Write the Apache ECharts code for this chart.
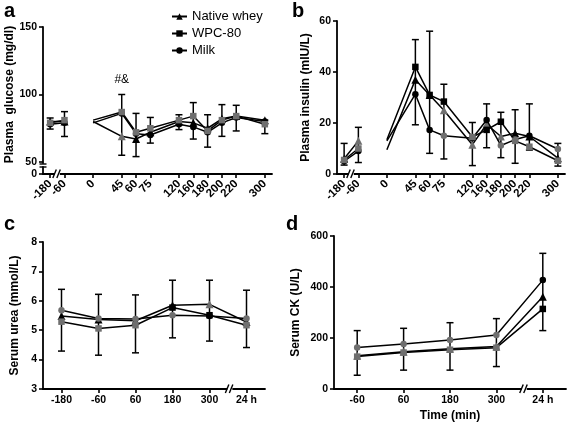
<!DOCTYPE html>
<html><head><meta charset="utf-8">
<script src="https://cdn.jsdelivr.net/npm/echarts@6/dist/echarts.min.js"></script>
<style>html,body{margin:0;padding:0;background:#fff}#c{width:567px;height:429px}</style>
</head><body><div id="c"></div>
<script>
// ---------------- data ----------------
const seriesNames = ['Native whey', 'WPC-80', 'Milk'];
// panels a & b: sampling times (min)
const timesAB = ['-180', '-60', '0', '45', '60', '75', '120', '160', '180', '200', '220', '300'];
// axis slots (blank slots keep the original uneven spacing)
const axisCatsAB = ['-180', '-60', ' ', '0', '  ', '45', '60', '75', '   ', '120', '160', '180', '200', '220', '    ', '300'];
// a: plasma glucose (mg/dl)
const glucoseNative = [80, 80, 80, 69, 67, 72, 80, 79, 75, 82, 84, 81];
const glucoseWPC    = [79, 81, 81, 87, 72, 75, 81, 84, 73, 81, 84, 78];
const glucoseMilk   = [78, 79, 79, 86, 71, 70, 78, 76, 72, 79, 83, 80];
const glucoseErrLow  = [74.4, 68.9, null, 55, 54, 64, 74, 67, 61, 69, 73, 71];
const glucoseErrHigh = [82.6, 87.3, null, 100, 86, 83, 85, 94, 85, 92.5, 92, 81];
// b: plasma insulin (mIU/L)
const insulinNative = [6, 13, 9.5, 37, 31, 25, 11.5, 19.5, 14.7, 16, 14.7, 6.2];
const insulinWPC    = [5.5, 10, 13.4, 42, 31, 28.4, 14.5, 17.3, 20.5, 13, 10.7, 5.2];
const insulinMilk   = [5, 9, 13, 31.3, 17.3, 15, 14, 21.2, 11.2, 13.5, 15, 9.8];
const insulinErrLow  = [3.5, 4.5, null, 19.3, 8.1, 5.9, 3.3, 10.3, 6.4, 4.2, 9.4, 3.1];
const insulinErrHigh = [12, 18.3, null, 52.7, 56, 35.2, 20.2, 27.5, 24.2, 25.2, 27.5, 12];
// c: serum urea (mmol/L)
const timesC = ['-180', '-60', '60', '180', '300', '24 h'];
const ureaNative = [5.48, 5.36, 5.32, 5.85, 5.88, 5.28];
const ureaWPC    = [5.29, 5.06, 5.17, 5.77, 5.51, 5.17];
const ureaMilk   = [5.68, 5.40, 5.38, 5.51, 5.48, 5.40];
const ureaErrLow  = [4.29, 4.15, 4.23, 4.74, 4.63, 4.41];
const ureaErrHigh = [6.39, 6.22, 6.20, 6.70, 6.70, 6.36];
// d: serum CK (U/L)
const timesD = ['-60', '60', '180', '300', '24 h'];
const ckNative = [130, 146, 158, 167, 362];
const ckWPC    = [127, 143, 154, 162, 314];
const ckMilk   = [163, 176, 192, 212, 427];
const ckErrLow  = [54, 74, 74, 88, 229];
const ckErrHigh = [229, 238, 260, 276, 532];

// ---------------- styling / layout ----------------
const FONT = '"Liberation Sans", Arial, sans-serif';
const BLACK = '#000';
const GREY = '#6f6f6f';
const symbols = ['triangle', 'rect', 'circle'];
const symbolSizes = [8, 6.5, 6.5];
const seriesZ = [3, 5, 4];
// indices of markers drawn grey in the original (per series)
const greyMarks = {
  a: [[3], [0, 1, 3, 4, 5, 6, 7, 8, 9, 10, 11], []],
  b: [[1, 5, 6, 7, 8], [0, 1, 6, 9, 10, 11], [5, 8, 9, 11]],
  c: [[4], [0, 1, 2, 5], [0, 1, 2, 3, 5]],
  d: [[0, 1, 2, 3], [0, 1, 2, 3], [0, 1, 2, 3]]
};
const GRIDS = [
  {left: 43, top: 27, width: 229, height: 135},   // a (50-150)
  {left: 43, top: 167, width: 229, height: 7},    // a (0 stub)
  {left: 337, top: 21, width: 228, height: 153},  // b
  {left: 43, top: 242, width: 222, height: 147},  // c
  {left: 334, top: 236, width: 232, height: 153}  // d
];

function merge(a, b) {
  const out = Object.assign({}, a);
  for (const k in b) {
    if (b[k] && typeof b[k] === 'object' && !Array.isArray(b[k]) && typeof b[k] !== 'function' && a[k] && typeof a[k] === 'object') out[k] = merge(a[k], b[k]);
    else out[k] = b[k];
  }
  return out;
}
const baseAxis = {
  axisLine: {show: true, onZero: false, lineStyle: {color: BLACK, width: 1.8}},
  axisTick: {show: true, length: 4, lineStyle: {color: BLACK, width: 1.6}},
  axisLabel: {color: BLACK, fontWeight: 'bold', fontSize: 10.5, fontFamily: FONT, margin: 6},
  splitLine: {show: false},
  nameTextStyle: {color: BLACK, fontWeight: 'bold', fontSize: 12, fontFamily: FONT}
};
const tickFilter = (i, v) => String(v).trim() !== '';

const xAxes = [
  merge(baseAxis, {gridIndex: 0, type: 'category', data: axisCatsAB, offset: 12,
    axisTick: {alignWithLabel: true, interval: tickFilter},
    axisLabel: {rotate: 45, interval: 0, margin: 8, fontSize: 11.5}}),
  {gridIndex: 1, type: 'category', data: axisCatsAB, show: false},
  merge(baseAxis, {gridIndex: 2, type: 'category', data: axisCatsAB,
    axisTick: {alignWithLabel: true, interval: tickFilter},
    axisLabel: {rotate: 45, interval: 0, margin: 8, fontSize: 11.5}}),
  merge(baseAxis, {gridIndex: 3, type: 'category', data: timesC,
    axisTick: {alignWithLabel: true}, axisLabel: {interval: 0}}),
  merge(baseAxis, {gridIndex: 4, type: 'category', data: timesD,
    axisTick: {alignWithLabel: true}, axisLabel: {interval: 0},
    name: 'Time (min)', nameLocation: 'middle', nameGap: 21})
];
const yAxes = [
  merge(baseAxis, {gridIndex: 0, type: 'value', min: 50, max: 150, interval: 50,
    name: 'Plasma  glucose (mg/dl)', nameLocation: 'middle', nameGap: 27}),
  merge(baseAxis, {gridIndex: 1, type: 'value', min: 0, max: 1,
    axisLabel: {customValues: [0]}, axisTick: {customValues: [0]}}),
  merge(baseAxis, {gridIndex: 2, type: 'value', min: 0, max: 60, interval: 20,
    name: 'Plasma insulin (mIU/L)', nameLocation: 'middle', nameGap: 25}),
  merge(baseAxis, {gridIndex: 3, type: 'value', min: 3, max: 8, interval: 1,
    name: 'Serum urea (mmol/L)', nameLocation: 'middle', nameGap: 22}),
  merge(baseAxis, {gridIndex: 4, type: 'value', min: 0, max: 600, interval: 200,
    name: 'Serum CK (U/L)', nameLocation: 'middle', nameGap: 32})
];

const panels = [
  {key: 'a', axis: 0, times: timesAB, vals: [glucoseNative, glucoseWPC, glucoseMilk], lo: glucoseErrLow, hi: glucoseErrHigh, gapAfter: '-60', noSymbol: '0'},
  {key: 'b', axis: 2, times: timesAB, vals: [insulinNative, insulinWPC, insulinMilk], lo: insulinErrLow, hi: insulinErrHigh, gapAfter: '-60', noSymbol: '0'},
  {key: 'c', axis: 3, times: timesC, vals: [ureaNative, ureaWPC, ureaMilk], lo: ureaErrLow, hi: ureaErrHigh},
  {key: 'd', axis: 4, times: timesD, vals: [ckNative, ckWPC, ckMilk], lo: ckErrLow, hi: ckErrHigh}
];

const series = [];
panels.forEach(p => {
  series.push({
    type: 'custom', xAxisIndex: p.axis, yAxisIndex: p.axis, z: 2, silent: true,
    data: p.times.map((t, i) => [t, p.lo[i], p.hi[i]]).filter(d => d[1] != null),
    encode: {x: 0, y: [1, 2]},
    renderItem: (params, api) => {
      const x = api.value(0);
      const a = api.coord([x, api.value(1)]);
      const b = api.coord([x, api.value(2)]);
      const w = 3.5;
      const st = {stroke: BLACK, lineWidth: 1.5};
      return {type: 'group', children: [
        {type: 'line', shape: {x1: a[0], y1: a[1], x2: b[0], y2: b[1]}, style: st},
        {type: 'line', shape: {x1: a[0] - w, y1: a[1], x2: a[0] + w, y2: a[1]}, style: st},
        {type: 'line', shape: {x1: b[0] - w, y1: b[1], x2: b[0] + w, y2: b[1]}, style: st}
      ]};
    }
  });
  seriesNames.forEach((name, s) => {
    const data = [];
    p.times.forEach((t, i) => {
      const item = {value: [t, p.vals[s][i]]};
      if (greyMarks[p.key][s].includes(i)) item.itemStyle = {color: GREY};
      if (t === p.noSymbol) item.symbol = 'none';
      data.push(item);
      if (t === p.gapAfter) data.push({value: [' ', '-']});
    });
    series.push({
      name, type: 'line', xAxisIndex: p.axis, yAxisIndex: p.axis, z: seriesZ[s],
      symbol: symbols[s], symbolSize: symbolSizes[s], connectNulls: false,
      lineStyle: {color: BLACK, width: 1.5}, itemStyle: {color: BLACK},
      emphasis: {disabled: true}, data
    });
  });
});

const chart = echarts.init(document.getElementById('c'));
chart.setOption({
  animation: false,
  backgroundColor: '#fff',
  grid: GRIDS,
  xAxis: xAxes,
  yAxis: yAxes,
  legend: {
    data: seriesNames, orient: 'vertical', left: 166, top: 5,
    itemWidth: 15, itemHeight: 8, itemGap: 4,
    textStyle: {fontSize: 13, fontFamily: FONT, color: BLACK}
  },
  series
});

// ---------------- decorations: panel letters, annotation, axis breaks ----------------
const g = [];
[['a', 4, 21], ['b', 292, 21], ['c', 4, 234], ['d', 286, 234]].forEach(([t, x, y]) => {
  g.push({type: 'text', x, y, style: {text: t, font: 'bold 20px ' + FONT, fill: BLACK, verticalAlign: 'bottom'}});
});
const ann = chart.convertToPixel({xAxisIndex: 0, yAxisIndex: 0}, ['45', 111]);
g.push({type: 'text', x: ann[0], y: ann[1], style: {text: '#&', font: '12px ' + FONT, fill: BLACK, align: 'center', verticalAlign: 'middle'}});

function xBreak(axisIdx, yIdx, yVal, c1, c2, frac) {
  const x1 = chart.convertToPixel({xAxisIndex: axisIdx}, c1);
  const x2 = chart.convertToPixel({xAxisIndex: axisIdx}, c2);
  const x = x1 + (x2 - x1) * frac;
  const y = chart.convertToPixel({yAxisIndex: yIdx}, yVal);
  const st = {stroke: BLACK, lineWidth: 1.4};
  g.push({type: 'rect', shape: {x: x - 2.5, y: y - 2, width: 5, height: 4}, style: {fill: '#fff'}, z: 100});
  g.push({type: 'line', shape: {x1: x - 4.5, y1: y + 4, x2: x - 1, y2: y - 4.5}, style: st, z: 101});
  g.push({type: 'line', shape: {x1: x - 0.5, y1: y + 4, x2: x + 3, y2: y - 4.5}, style: st, z: 101});
}
xBreak(0, 1, 0, '-180', '-60', 0.5);
xBreak(2, 2, 0, '-180', '-60', 0.5);
xBreak(3, 3, 3, '300', '24 h', 0.55);
xBreak(4, 4, 0, '300', '24 h', 0.6);
// y-axis break of panel a (between 0 and 50)
(function () {
  const yTop = chart.convertToPixel({yAxisIndex: 0}, 50);
  const yBot = GRIDS[1].top;
  const x = GRIDS[0].left;
  const st = {stroke: BLACK, lineWidth: 1.4};
  g.push({type: 'line', shape: {x1: x, y1: yTop, x2: x, y2: yTop + 2}, style: st});
  g.push({type: 'line', shape: {x1: x - 3.5, y1: yTop + 2, x2: x + 3.5, y2: yTop + 2}, style: st});
  g.push({type: 'line', shape: {x1: x - 3.5, y1: yBot, x2: x + 3.5, y2: yBot}, style: st});
})();
chart.setOption({graphic: g});
</script></body></html>
